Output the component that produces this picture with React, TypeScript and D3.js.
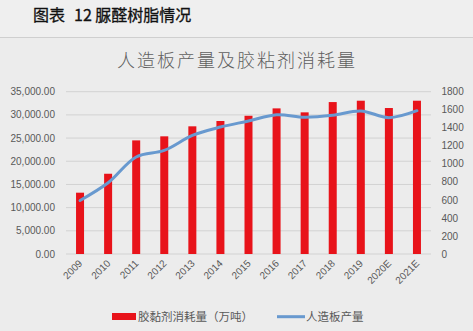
import React from "react";
import * as d3 from "d3";

const years = ["2009","2010","2011","2012","2013","2014","2015","2016","2017","2018","2019","2020E","2021E"];
const adhesive = [680, 890, 1260, 1305, 1416, 1475, 1533, 1615, 1571, 1685, 1700, 1619, 1700];
const panel = [11546, 15361, 20919, 22336, 25560, 27372, 28680, 30042, 29486, 29909, 30859, 29400, 30900];
const leftTicks = [0, 5000, 10000, 15000, 20000, 25000, 30000, 35000];
const rightTicks = [0, 200, 400, 600, 800, 1000, 1200, 1400, 1600, 1800];

const W = 473, H = 331;
const plot = { left: 66, right: 431, top: 91.7, bottom: 254 };
const numFont = "'Liberation Sans', Arial, sans-serif";
const cjkFont = "'Noto Sans CJK SC', sans-serif";

export default function App() {
  const x = d3.scaleBand<string>().domain(years).range([plot.left, plot.right]).padding(0);
  const yL = d3.scaleLinear().domain([0, 35000]).range([plot.bottom, plot.top]);
  const yR = d3.scaleLinear().domain([0, 1800]).range([plot.bottom, plot.top]);
  const barW = 8;
  const cx = (d: string) => (x(d) as number) + x.bandwidth() / 2;
  const line = d3.line<number>()
    .x((_, i) => cx(years[i]))
    .y((v) => yL(v))
    .curve(d3.curveCatmullRom.alpha(0.5));
  const fmt = d3.format(",.2f");

  return (
    <svg width={W} height={H} style={{ position: "absolute", left: 0, top: 0 }}>
      <rect x={0} y={0} width={W} height={H} fill="#ececec" />
      <rect x={0} y={0} width={W} height={37} fill="#efefef" />
      <text x={33} y={21} fontFamily={cjkFont} fontSize={16} fontWeight={400} fill="#111" stroke="#111" strokeWidth={0.3}>
        图表<tspan dx={9}>12 脲醛树脂情况</tspan>
      </text>
      <line x1={0} x2={W} y1={37.5} y2={37.5} stroke="#cfcfcf" strokeWidth={1} />
      <text x={237} y={67} textAnchor="middle" fontFamily={cjkFont} fontSize={18} fontWeight={300} letterSpacing={2} fill="#5f5f5f">
        人造板产量及胶粘剂消耗量
      </text>
      {leftTicks.map((t) => (
        <g key={"l" + t}>
          <line x1={plot.left} x2={plot.right} y1={yL(t)} y2={yL(t)} stroke="#d2d2d2" strokeWidth={1} />
          <text x={55} y={yL(t) + 3.6} textAnchor="end" fontFamily={numFont} fontSize={10} fill="#595959">
            {fmt(t)}
          </text>
        </g>
      ))}
      {rightTicks.map((t) => (
        <text key={"r" + t} x={441.5} y={yR(t) + 3.6} fontFamily={numFont} fontSize={10} fill="#595959">
          {t}
        </text>
      ))}
      {years.map((y, i) => (
        <rect key={y} x={cx(y) - barW / 2} y={yR(adhesive[i])} width={barW} height={plot.bottom - yR(adhesive[i])} fill="#e8131a" />
      ))}
      <path d={line(panel) || ""} fill="none" stroke="#6899cf" strokeWidth={3} strokeLinecap="round" strokeLinejoin="round" />
      {years.map((y) => (
        <text key={"x" + y} transform={`translate(${cx(y) + 3},${plot.bottom + 10}) rotate(-45)`} textAnchor="end"
          fontFamily={numFont} fontSize={10} fill="#595959">
          {y}
        </text>
      ))}
      <rect x={112} y={313} width={24} height={7} fill="#e8131a" />
      <text x={138} y={320.5} fontFamily={cjkFont} fontSize={11.5} fill="#595959">胶黏剂消耗量（万吨）</text>
      <line x1={277} x2={305} y1={316.7} y2={316.7} stroke="#6899cf" strokeWidth={3} />
      <text x={306} y={320.5} fontFamily={cjkFont} fontSize={11.5} fill="#595959">人造板产量</text>
    </svg>
  );
}
